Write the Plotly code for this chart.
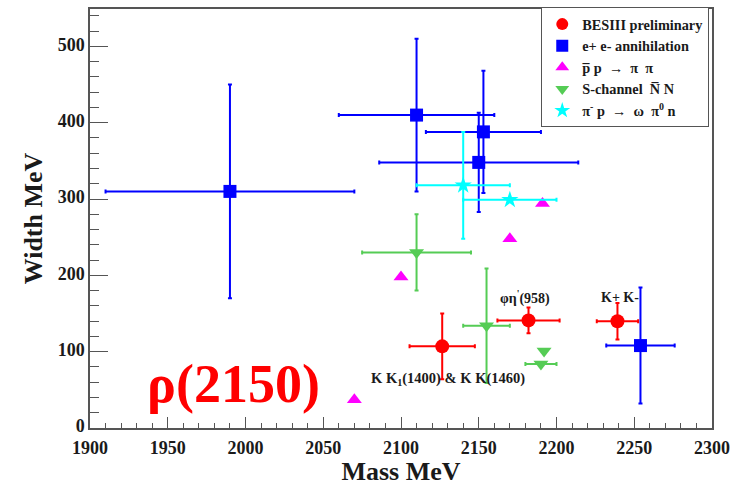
import plotly.graph_objects as go

# BESIII preliminary
bes_m = [2126.5, 2182.0, 2239.2]
bes_dm = [21.0, 20.0, 13.3]
bes_w = [107.0, 141.0, 139.8]
bes_dw = [43.0, 17.0, 24.0]

# e+ e- annihilation
ee_m = [1990.0, 2110.0, 2153.0, 2150.0, 2254.0]
ee_dm = [80.0, 50.0, 37.0, 64.0, 22.0]
ee_w = [310.0, 410.0, 388.0, 348.0, 108.0]
ee_dw = [140.0, 100.0, 80.0, 65.0, 76.0]

# pbar p -> pi pi
pp_m = [2070.0, 2100.0, 2170.0, 2191.0]
pp_w = [37.0, 198.0, 248.0, 294.0]

# S-channel Nbar N
nn_m = [2110.0, 2155.0, 2190.0, 2192.0]
nn_dm = [35.0, 15.0, 10.0, 0.0]
nn_w = [230.0, 134.0, 84.0, 101.0]
nn_dw = [50.0, 75.0, 0.0, 0.0]

# pi- p -> omega pi0 n
om_m = [2140.0, 2170.0]
om_dm = [30.0, 30.0]
om_w = [318.0, 299.0]
om_dw = [70.0, 0.0]

x_ticks = [1900, 1950, 2000, 2050, 2100, 2150, 2200, 2250, 2300]
y_ticks = [0, 100, 200, 300, 400, 500]

FONT = "Liberation Serif"
GREEN = "#55cc55"
TXT = "#1a1a1a"

fig = go.Figure()

def add(name, m, w, color, symbol, size, dm=None, dw=None):
    kw = {}
    if dm is not None:
        kw["error_x"] = dict(type="data", array=dm, color=color, thickness=2, width=2)
    if dw is not None:
        kw["error_y"] = dict(type="data", array=dw, color=color, thickness=2, width=2)
    fig.add_trace(go.Scatter(
        x=m, y=w, mode="markers", name=name,
        marker=dict(color=color, symbol=symbol, size=size, line=dict(width=0)),
        **kw))

add("BESIII preliminary", bes_m, bes_w, "#ff0000", "circle", 14, bes_dm, bes_dw)
add("e+ e- annihilation", ee_m, ee_w, "#0000ff", "square", 13, ee_dm, ee_dw)
add("p\u0305 p  \u2192  \u03c0  \u03c0", pp_m, pp_w, "#ff00ff", "triangle-up", 13)
add("S-channel  N\u0305 N", nn_m, nn_w, GREEN, "triangle-down", 13, nn_dm, nn_dw)
add("\u03c0<sup>-</sup> p  \u2192  \u03c9  \u03c0<sup>0</sup> n", om_m, om_w, "#00ffff", "star", 13, om_dm, om_dw)

annos = [
    dict(x=1992, y=58, text="\u03c1(2150)", font=dict(family=FONT, size=54, color="#ff0000", weight="bold")),
    dict(x=2130, y=64, text="K K<sub>1</sub>(1400) & K K(1460)", font=dict(family=FONT, size=14.5, color=TXT, weight="bold")),
    dict(x=2180, y=171, text="\u03c6\u03b7<sup>'</sup>(958)", font=dict(family=FONT, size=14, color=TXT, weight="bold")),
    dict(x=2241, y=171, text="K+ K-", font=dict(family=FONT, size=14, color=TXT, weight="bold")),
]
for a in annos:
    fig.add_annotation(showarrow=False, xref="x", yref="y", **a)

axis_common = dict(
    showline=True, linecolor="#555", linewidth=1.5, mirror=True,
    ticks="inside", tickcolor="#555", showgrid=False, zeroline=False,
    tickfont=dict(family=FONT, size=18, color=TXT, weight="bold"),
)

fig.update_xaxes(
    range=[1900, 2300], tickvals=x_ticks, ticktext=[str(v) for v in x_ticks],
    ticklen=11, minor=dict(dtick=10, ticklen=5, ticks="inside", tickcolor="#555"),
    ticklabelstandoff=3,
    title=dict(text="Mass MeV", font=dict(family=FONT, size=26, color=TXT, weight="bold"), standoff=2),
    **axis_common)
fig.update_yaxes(
    range=[0, 549], tickvals=y_ticks, ticktext=[str(v) for v in y_ticks],
    ticklen=18, minor=dict(dtick=20, ticklen=9, ticks="inside", tickcolor="#555"),
    ticklabelshift=-2,
    title=dict(text="Width MeV", font=dict(family=FONT, size=26, color=TXT, weight="bold"), standoff=8),
    **axis_common)

fig.update_layout(
    width=737, height=486,
    margin=dict(l=90, r=25, t=7, b=58),
    plot_bgcolor="white", paper_bgcolor="white",
    legend=dict(
        x=0.7255, y=1.004, xanchor="left", yanchor="top",
        bordercolor="#555", borderwidth=1, bgcolor="white",
        font=dict(family=FONT, size=14.3, color=TXT, weight="bold"),
        itemsizing="constant", tracegroupgap=0,
    ),
)

fig.write_html("out.html")
